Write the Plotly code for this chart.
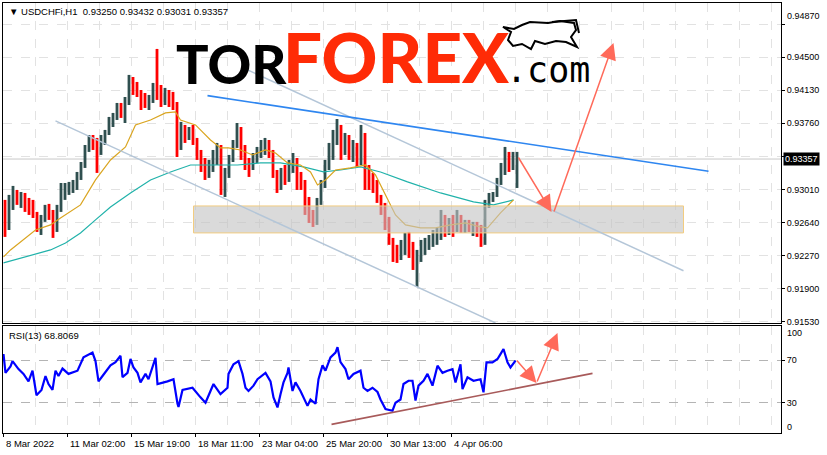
import plotly.graph_objects as go

# ---------------- data (USDCHFi H1, grouped by 4 hourly bars) ----------------
opens = [0.92752,0.92617,0.92842,0.92954,0.92898,0.92942,0.92819,0.92785,0.92740,0.92605,
0.92695,0.92808,0.92729,0.92617,0.92785,0.93010,0.93032,0.93055,0.93088,0.93167,
0.93290,0.93482,0.93571,0.93515,0.93459,0.93571,0.93650,0.93796,0.93830,0.93931,
0.93886,0.93998,0.94212,0.94133,0.94099,0.94021,0.93976,0.94043,0.94133,0.94077,
0.94021,0.94088,0.94021,0.93976,0.93571,0.93706,0.93650,0.93684,0.93571,0.93437,
0.93290,0.93234,0.93290,0.93369,0.93459,0.93066,0.93178,0.93347,0.93515,0.93684,
0.93459,0.93290,0.93257,0.93347,0.93437,0.93482,0.93515,0.93403,0.93212,0.93066,
0.93178,0.93145,0.93290,0.93347,0.93122,0.93088,0.92842,0.92729,0.92651,0.92864,
0.93066,0.93290,0.93459,0.93594,0.93684,0.93515,0.93571,0.93437,0.93482,0.93347,
0.93571,0.93234,0.93122,0.93066,0.92954,0.92808,0.92651,0.92448,0.92313,0.92280,
0.92393,0.92448,0.92336,0.92201,0.92280,0.92359,0.92414,0.92448,0.92471,0.92538,
0.92651,0.92560,0.92617,0.92583,0.92695,0.92583,0.92617,0.92583,0.92605,0.92538,
0.92471,0.92842,0.92931,0.92954,0.93100,0.93234,0.93369,0.93290,0.93347]

highs = [0.92898,0.92954,0.93055,0.93010,0.92987,0.92976,0.92920,0.92898,0.92763,0.92729,
0.92842,0.92853,0.92785,0.92842,0.93088,0.93088,0.93100,0.93122,0.93212,0.93324,
0.93515,0.93627,0.93627,0.93594,0.93627,0.93684,0.93830,0.93875,0.93987,0.93987,
0.94054,0.94302,0.94279,0.94223,0.94133,0.94099,0.94077,0.94212,0.94594,0.94189,
0.94156,0.94133,0.94111,0.93998,0.93774,0.93740,0.93717,0.93740,0.93594,0.93459,
0.93369,0.93347,0.93459,0.93538,0.93515,0.93257,0.93403,0.93571,0.93762,0.93717,
0.93515,0.93369,0.93425,0.93493,0.93571,0.93594,0.93571,0.93459,0.93234,0.93257,
0.93290,0.93347,0.93425,0.93369,0.93212,0.93122,0.92931,0.92785,0.92920,0.93122,
0.93347,0.93538,0.93684,0.93807,0.93740,0.93650,0.93627,0.93571,0.93538,0.93740,
0.93650,0.93290,0.93201,0.93122,0.92954,0.92864,0.92707,0.92471,0.92393,0.92448,
0.92527,0.92538,0.92426,0.92336,0.92448,0.92471,0.92504,0.92560,0.92583,0.92785,
0.92729,0.92695,0.92729,0.92785,0.92729,0.92673,0.92673,0.92651,0.92651,0.92617,
0.92898,0.92976,0.92987,0.93145,0.93313,0.93493,0.93437,0.93437,0.93437]

lows = [0.92482,0.92560,0.92785,0.92842,0.92808,0.92763,0.92729,0.92695,0.92538,0.92504,
0.92651,0.92673,0.92471,0.92538,0.92763,0.92898,0.92954,0.92976,0.93010,0.93122,
0.93257,0.93437,0.93459,0.93201,0.93403,0.93515,0.93627,0.93717,0.93796,0.93819,
0.93762,0.93964,0.94077,0.94054,0.93908,0.93931,0.93908,0.93987,0.94021,0.93942,
0.93964,0.93942,0.93908,0.93380,0.93459,0.93538,0.93571,0.93515,0.93347,0.93212,
0.93122,0.93145,0.93212,0.93290,0.92954,0.92931,0.93145,0.93324,0.93482,0.93347,
0.93234,0.93156,0.93234,0.93313,0.93369,0.93403,0.93369,0.93145,0.92976,0.93010,
0.93066,0.93100,0.93201,0.93010,0.93010,0.92729,0.92639,0.92594,0.92617,0.92842,
0.93032,0.93234,0.93347,0.93515,0.93347,0.93403,0.93347,0.93324,0.93268,0.93290,
0.93010,0.93010,0.92976,0.92864,0.92729,0.92560,0.92393,0.92201,0.92190,0.92223,
0.92280,0.92246,0.92111,0.91920,0.92201,0.92280,0.92336,0.92370,0.92393,0.92448,
0.92482,0.92504,0.92482,0.92538,0.92527,0.92527,0.92538,0.92493,0.92482,0.92370,
0.92393,0.92808,0.92875,0.92931,0.93066,0.93178,0.93212,0.93234,0.93032]

closes = [0.92617,0.92842,0.92954,0.92898,0.92942,0.92819,0.92785,0.92740,0.92605,0.92695,
0.92808,0.92729,0.92617,0.92785,0.93010,0.93032,0.93055,0.93088,0.93167,0.93290,
0.93482,0.93571,0.93515,0.93459,0.93571,0.93650,0.93796,0.93830,0.93931,0.93886,
0.93998,0.94212,0.94133,0.94099,0.94021,0.93976,0.94043,0.94133,0.94077,0.94021,
0.94088,0.94021,0.93976,0.93571,0.93706,0.93650,0.93684,0.93571,0.93437,0.93290,
0.93234,0.93290,0.93369,0.93459,0.93066,0.93178,0.93347,0.93515,0.93684,0.93459,
0.93290,0.93257,0.93347,0.93437,0.93482,0.93515,0.93403,0.93212,0.93066,0.93178,
0.93145,0.93290,0.93347,0.93122,0.93088,0.92842,0.92729,0.92651,0.92864,0.93066,
0.93290,0.93459,0.93594,0.93684,0.93515,0.93571,0.93437,0.93482,0.93347,0.93571,
0.93234,0.93122,0.93066,0.92954,0.92808,0.92651,0.92448,0.92313,0.92280,0.92393,
0.92448,0.92336,0.92201,0.92280,0.92359,0.92414,0.92448,0.92471,0.92538,0.92651,
0.92560,0.92617,0.92583,0.92695,0.92583,0.92617,0.92583,0.92605,0.92538,0.92471,
0.92842,0.92931,0.92954,0.93100,0.93234,0.93369,0.93290,0.93347,0.93357]

BARS_PER_CANDLE = 4  # hourly bars aggregated per drawn candle

# moving averages (bar index, price)
ma_fast_bar = [0, 7, 32, 47, 57, 77, 92, 107, 122, 132, 147, 162, 172, 177, 192, 207, 217, 225,
               237, 249, 262, 272, 284, 297, 307, 314, 322, 332, 347, 362, 372, 382, 392, 402,
               417, 432, 447, 462, 477, 484, 497, 510]
ma_fast = [0.92257, 0.92336, 0.92560, 0.92617, 0.92695, 0.92842, 0.93122, 0.93347, 0.93493,
           0.93740, 0.93796, 0.93875, 0.93886, 0.93796, 0.93740, 0.93571, 0.93482, 0.93482,
           0.93459, 0.93403, 0.93459, 0.93425, 0.93313, 0.93290, 0.93212, 0.93066, 0.93122,
           0.93234, 0.93257, 0.93290, 0.93178, 0.92954, 0.92729, 0.92617, 0.92583, 0.92583,
           0.92617, 0.92639, 0.92594, 0.92583, 0.92752, 0.92898]
ma_slow_bar = [0, 47, 62, 77, 92, 107, 127, 147, 167, 187, 207, 234, 257, 277, 300, 320, 337,
               357, 377, 404, 437, 470, 490, 510]
ma_slow = [0.92190, 0.92336, 0.92414, 0.92527, 0.92673, 0.92819, 0.92976, 0.93122, 0.93212,
           0.93290, 0.93290, 0.93290, 0.93313, 0.93313, 0.93268, 0.93212, 0.93234, 0.93268,
           0.93212, 0.93100, 0.92976, 0.92875, 0.92842, 0.92898]

# RSI(13)
rsi_bar = [0, 2, 7, 9, 15, 20, 25, 29, 33, 38, 42, 45, 49, 52, 55, 59, 65, 74, 80, 89, 92, 95,
           99, 107, 112, 117, 119, 124, 127, 130, 134, 137, 142, 145, 152, 154, 164, 170, 174,
           175, 179, 189, 197, 202, 207, 210, 217, 224, 225, 230, 235, 239, 242, 245, 250, 254,
           262, 267, 270, 274, 277, 280, 284, 285, 289, 292, 297, 300, 304, 307, 312, 315, 319,
           322, 327, 332, 334, 337, 342, 345, 350, 357, 360, 364, 369, 374, 377, 382, 389, 392,
           397, 400, 402, 405, 409, 412, 415, 420, 424, 429, 434, 439, 444, 449, 452, 457, 459,
           464, 470, 477, 480, 483, 489, 494, 497, 500, 504, 507, 512]
rsi = [75.6, 58, 64, 69, 61.5, 57, 50, 60, 37, 42, 55, 47.5, 42, 60, 55, 62, 57, 60, 72.5, 77,
       69, 50, 55, 65, 68, 74, 54, 58, 71, 63, 58, 49, 57, 52, 72, 47.5, 50, 52, 29, 26, 42,
       44, 35, 30, 41, 47.5, 38, 44, 57, 66, 69, 57, 44, 41, 46, 52, 58, 50, 35, 25.6, 38, 49,
       58, 63, 41, 49, 41, 35, 27, 33, 29, 52, 65, 60, 72.5, 77, 82, 68, 61.5, 52, 57, 60, 44,
       41, 44, 40, 33, 24, 22.5, 30, 33, 47.5, 49, 50.6, 50.6, 32, 46, 50.6, 57, 46, 64.7, 58,
       60, 61.5, 49, 66, 42.8, 53.8, 50.6, 52, 39.7, 67.8, 67.8, 71, 75.6, 80.3, 67.8, 63,
       69.4]

symbol = "USDCHFi,H1"
header_ohlc = [0.93250, 0.93432, 0.93031, 0.93357]
last_price = 0.93357
rsi_last = 68.8069

price_ticks = [0.94870, 0.94500, 0.94130, 0.93760, 0.93390, 0.93010, 0.92640, 0.92270, 0.91900, 0.91530]
rsi_ticks = [70, 30]
time_tick_bars = [0, 64, 128, 192, 256, 320, 384, 448]
time_tick_text = ["8 Mar 2022", "11 Mar 02:00", "15 Mar 19:00", "18 Mar 11:00",
                  "23 Mar 04:00", "25 Mar 20:00", "30 Mar 13:00", "4 Apr 06:00"]

# ---------------- figure ----------------
W, H = 827, 455
ML, MR, MT, MB = 3, 46, 3, 22
PW, PH = W - ML - MR, H - MT - MB


def px_x(px):
    return (px - ML) / PW


def px_y(py):
    return (H - MB - py) / PH


FONT = "Liberation Sans"
BULL = "#2F4F4F"
BEAR = "#FF0000"
ARROW = "#FF6A5A"
GRID = "#E2E2E2"

candle_x = [i * BARS_PER_CANDLE + (BARS_PER_CANDLE - 1) / 2 for i in range(len(closes))]

fig = go.Figure()
fig.add_trace(go.Ohlc(
    x=candle_x, open=opens, high=highs, low=lows, close=closes,
    increasing=dict(line=dict(color=BULL, width=2.8)),
    decreasing=dict(line=dict(color=BEAR, width=2.8)),
    tickwidth=0, showlegend=False, hoverinfo="skip", xaxis="x", yaxis="y"))
fig.add_trace(go.Scatter(x=ma_slow_bar, y=ma_slow, mode="lines", line=dict(color="#20B2AA", width=1.2),
                         showlegend=False, hoverinfo="skip", xaxis="x", yaxis="y"))
fig.add_trace(go.Scatter(x=ma_fast_bar, y=ma_fast, mode="lines", line=dict(color="#DAA520", width=1.2),
                         showlegend=False, hoverinfo="skip", xaxis="x", yaxis="y"))
fig.add_trace(go.Scatter(x=rsi_bar, y=rsi, mode="lines", line=dict(color="#0000FF", width=2.2),
                         showlegend=False, hoverinfo="skip", xaxis="x2", yaxis="y2"))

price_range = [0.91515, 0.95110]
rsi_range = [1.6, 101.9]
x_range = [-0.5, PW - 0.5]
minor_grid = dict(dtick=32, tick0=0, showgrid=True, gridcolor=GRID, griddash="dash", ticks="")

fig.update_layout(
    width=W, height=H, margin=dict(l=ML, r=MR, t=MT, b=MB, autoexpand=False),
    paper_bgcolor="white", plot_bgcolor="white",
    font=dict(family=FONT, size=9, color="black"),
    xaxis=dict(domain=[0, 1], range=x_range, tickvals=time_tick_bars, showticklabels=False,
               ticks="", showgrid=True, gridcolor=GRID, griddash="dash", minor=minor_grid,
               showline=True, linecolor="black", linewidth=1, mirror=True, zeroline=False,
               rangeslider=dict(visible=False), anchor="y"),
    yaxis=dict(domain=[px_y(323), 1], range=price_range, side="right", tickvals=price_ticks,
               ticktext=["" if v in (0.94870, 0.93390) else f"{v:.5f}" for v in price_ticks],
               ticks="outside", ticklen=3, tickcolor="black", showgrid=True, gridcolor=GRID,
               griddash="dash", showline=True, linecolor="black", mirror=True, zeroline=False,
               anchor="x", tickfont=dict(size=9)),
    xaxis2=dict(domain=[0, 1], range=x_range, matches="x", tickvals=time_tick_bars,
                showticklabels=False, ticks="outside", ticklen=3, tickcolor="black",
                showgrid=True, gridcolor=GRID, griddash="dash", minor=minor_grid,
                showline=True, linecolor="black", mirror=True, zeroline=False, anchor="y2"),
    yaxis2=dict(domain=[0, px_y(326)], range=rsi_range, side="right", tickvals=rsi_ticks,
                ticks="outside", ticklen=3, tickcolor="black", showgrid=True, gridcolor="#B4B4B4",
                griddash="dash", showline=True, linecolor="black", mirror=True, zeroline=False,
                anchor="x2", tickfont=dict(size=9)),
)

shapes = []
# current price line
shapes.append(dict(type="line", xref="x", yref="y", x0=x_range[0], x1=x_range[1],
                   y0=last_price, y1=last_price, line=dict(color="#C8C8C8", width=1), layer="below"))
# support zone
shapes.append(dict(type="rect", xref="x", yref="y", x0=190, x1=680, y0=0.92527, y1=0.92830,
                   fillcolor="rgba(195,195,195,0.62)", line=dict(color="#F2CC80", width=1),
                   layer="above"))
# descending channel
shapes.append(dict(type="line", xref="x", yref="y", x0=240, y0=0.94380, x1=680, y1=0.92102,
                   line=dict(color="#B4C6D8", width=1.5)))
shapes.append(dict(type="line", xref="x", yref="y", x0=52, y0=0.93785, x1=492, y1=0.91516,
                   line=dict(color="#B4C6D8", width=1.5)))
# resistance line
shapes.append(dict(type="line", xref="x", yref="y", x0=204, y0=0.94069, x1=705, y1=0.93219,
                   line=dict(color="#2E86F0", width=1.6)))
# RSI trend line
shapes.append(dict(type="line", xref="x2", yref="y2", x0=328, y0=9.7, x1=589, y1=57.5,
                   line=dict(color="#A85A5A", width=1.6)))

# bull icon (logo)
bull_pts = [(508, 40), (511, 32), (503, 27), (514, 29), (522, 25), (530, 22), (548, 23), (560, 21),
            (574, 23), (576, 30), (571, 37), (577, 47), (566, 42), (556, 41), (545, 44), (535, 41),
            (531, 49), (522, 44), (513, 46)]
ax0, ay0 = 505, 50
path = "M " + " L ".join(f"{x - ax0},{ay0 - y}" for x, y in bull_pts) + " Z"
shapes.append(dict(type="path", xref="paper", yref="paper", xsizemode="pixel", ysizemode="pixel",
                   xanchor=px_x(ax0), yanchor=px_y(ay0), path=path,
                   line=dict(color="black", width=2), fillcolor="rgba(255,255,255,0.9)"))
tail = [(552, 22), (576, 20), (579, 33)]
shapes.append(dict(type="path", xref="paper", yref="paper", xsizemode="pixel", ysizemode="pixel",
                   xanchor=px_x(ax0), yanchor=px_y(ay0),
                   path="M " + " L ".join(f"{x - ax0},{ay0 - y}" for x, y in tail),
                   line=dict(color="black", width=2)))
fig.update_layout(shapes=shapes)

ann = []
# header
ann.append(dict(xref="paper", yref="paper", x=px_x(7), y=px_y(11), xanchor="left", yanchor="middle",
                text="▼ " + symbol + "  " + " ".join(f"{v:.5f}" for v in header_ohlc),
                showarrow=False, font=dict(family=FONT, size=9.5, color="black")))
ann.append(dict(xref="paper", yref="paper", x=px_x(7), y=px_y(335), xanchor="left", yanchor="middle",
                text=f"RSI(13) {rsi_last:.4f}", showarrow=False, font=dict(family=FONT, size=9.5)))
# time labels (left-aligned on ticks, MT4 style)
for b, t in zip(time_tick_bars, time_tick_text):
    ann.append(dict(xref="x2", yref="paper", x=b, y=px_y(443), xanchor="left", yanchor="middle",
                    text=t, showarrow=False, font=dict(family=FONT, size=9.5)))
# clamped axis labels
ann.append(dict(xref="paper", yref="paper", x=1, xshift=4, y=px_y(16), xanchor="left",
                yanchor="middle", text=f"{price_ticks[0]:.5f}", showarrow=False,
                font=dict(family=FONT, size=9)))
ann.append(dict(xref="paper", yref="paper", x=1, xshift=4, y=px_y(333), xanchor="left",
                yanchor="middle", text="100", showarrow=False, font=dict(family=FONT, size=9)))
ann.append(dict(xref="paper", yref="paper", x=1, xshift=4, y=px_y(427), xanchor="left",
                yanchor="middle", text="0", showarrow=False, font=dict(family=FONT, size=9)))
# current price tag
ann.append(dict(xref="paper", yref="y", x=1, xshift=2, y=last_price, xanchor="left", yanchor="middle",
                text=f"{last_price:.5f}", showarrow=False, bgcolor="black", borderpad=1,
                font=dict(family=FONT, size=9, color="white")))
# forecast arrows (price)
for (x0, y0, x1, y1) in [(514, 0.93391, 548, 0.92762), (550, 0.92751, 610, 0.94661)]:
    ann.append(dict(xref="x", yref="y", axref="x", ayref="y", x=x1, y=y1, ax=x0, ay=y0, text="",
                    showarrow=True, arrowhead=2, arrowsize=2.2, arrowwidth=1.5, arrowcolor=ARROW))
# forecast arrows (RSI)
for (x0, y0, x1, y1) in [(512, 70.9, 533, 48.4), (533, 48.4, 554, 95.3)]:
    ann.append(dict(xref="x2", yref="y2", axref="x2", ayref="y2", x=x1, y=y1, ax=x0, ay=y0, text="",
                    showarrow=True, arrowhead=2, arrowsize=2.2, arrowwidth=1.5, arrowcolor=ARROW))
# logo
ann.append(dict(xref="paper", yref="paper", x=px_x(174), y=px_y(63), xanchor="left", yanchor="middle",
                text="TOR", showarrow=False,
                font=dict(family="Lato", size=54, color="black", weight=900)))
ann.append(dict(xref="paper", yref="paper", x=px_x(281), y=px_y(56), xanchor="left", yanchor="middle",
                text="FOREX", showarrow=False,
                font=dict(family="Lato", size=69, color="#FF2B06", weight=900)))
ann.append(dict(xref="paper", yref="paper", x=px_x(504), y=px_y(70), xanchor="left", yanchor="middle",
                text=".com", showarrow=False,
                font=dict(family="DejaVu Sans Mono", size=35, color="black")))
fig.update_layout(annotations=ann)

fig.write_html("out.html", config={"displayModeBar": False},
               post_script="document.body.style.margin='0px';document.body.style.overflow='hidden';")
